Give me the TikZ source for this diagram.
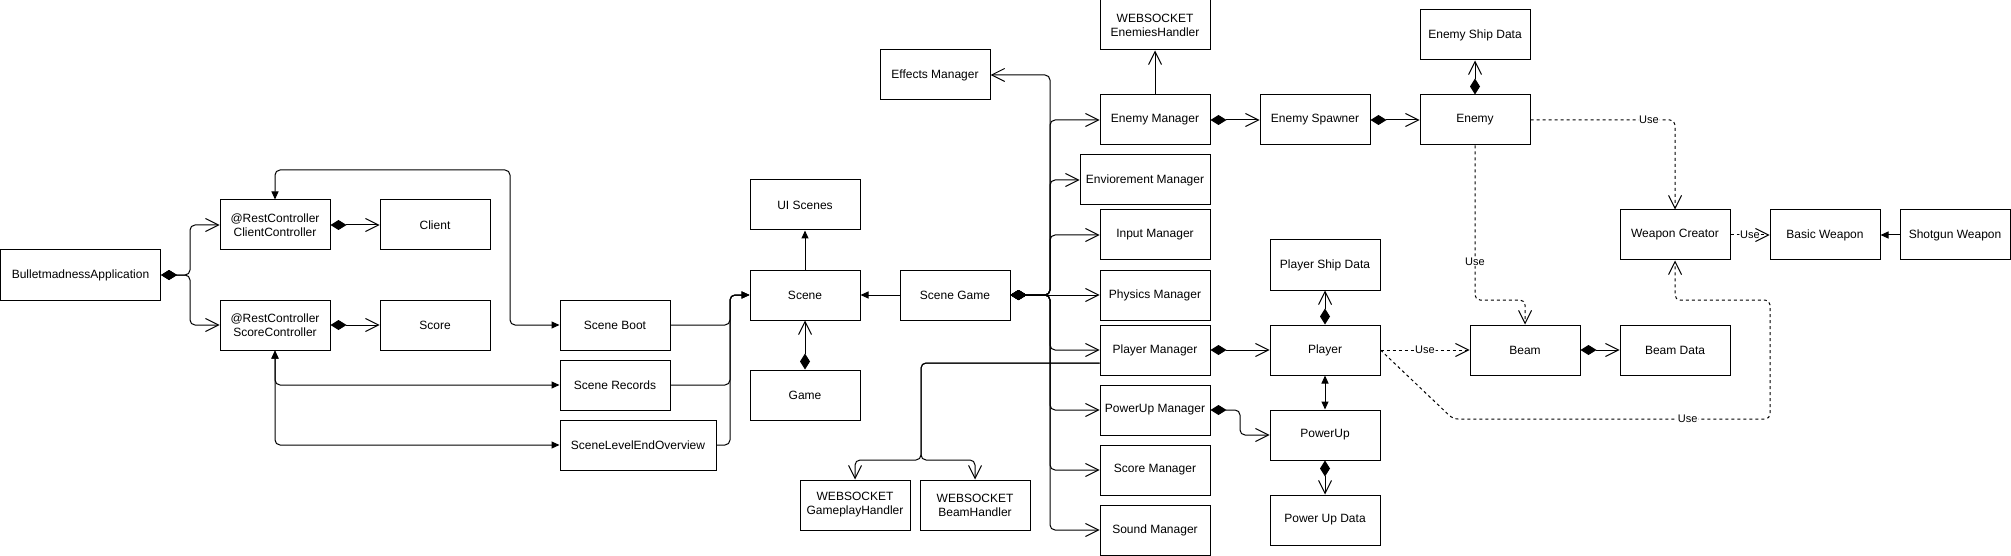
\documentclass[tikz,border=0pt]{standalone}
\usepackage{fontspec}
\setmainfont{Liberation Sans}
\usetikzlibrary{arrows.meta,calc}
\begin{document}
\begin{tikzpicture}[x=1pt,y=-1pt,
  box/.style={draw, line width=1pt, minimum width=110pt, minimum height=50pt, inner sep=0pt, align=center, font=\fontsize{12}{14}\selectfont},
  con/.style={line width=1pt, rounded corners=5pt},
  assoc/.style={con, -{Straight Barb[length=13pt,width=13pt]}},
  comp/.style={con, {Diamond[length=16pt,width=10pt]}-{Straight Barb[length=13pt,width=13pt]}},
  dep/.style={con, dash pattern=on 3pt off 3pt, -{Straight Barb[length=13pt,width=13pt]}},
  inh/.style={con, -{Triangle[length=8pt,width=7pt]}},
  both/.style={con, {Triangle[length=8pt,width=7pt]}-{Triangle[length=8pt,width=7pt]}},
  lbl/.style={fill=white, inner sep=1pt, font=\fontsize{11}{13}\selectfont},
]
\useasboundingbox (0,0) rectangle (2011,556);

% nodes
\node[box, minimum width=160pt] (app) at (80.5,275) {BulletmadnessApplication};
\node[box] (cc) at (275,225) {@RestController\\ClientController};
\node[box] (client) at (435,225) {Client};
\node[box] (sc) at (275,325) {@RestController\\ScoreController};
\node[box] (score) at (435,325) {Score};
\node[box] (boot) at (615,325) {Scene Boot};
\node[box] (records) at (615,385) {Scene Records};
\node[box, minimum width=156pt] (level) at (638,445) {SceneLevelEndOverview};
\node[box] (uis) at (805,205) {UI Scenes};
\node[box] (scene) at (805,295) {Scene};
\node[box] (game) at (805,395) {Game};
\node[box] (sgame) at (955,295) {Scene Game};
\node[box] (effects) at (935,75) {Effects Manager};
\node[box] (wsenemy) at (1155,25) {WEBSOCKET\\EnemiesHandler};
\node[box] (enemymgr) at (1155,120) {Enemy Manager};
\node[box, minimum width=130pt] (env) at (1145,180) {Enviorement Manager};
\node[box] (input) at (1155,235) {Input Manager};
\node[box] (physics) at (1155,295) {Physics Manager};
\node[box] (playermgr) at (1155,350) {Player Manager};
\node[box] (powermgr) at (1155,410) {PowerUp Manager};
\node[box] (scoremgr) at (1155,470) {Score Manager};
\node[box] (soundmgr) at (1155,530) {Sound Manager};
\node[box] (wsgame) at (855,505) {WEBSOCKET\\GameplayHandler};
\node[box] (wsbeam) at (975,505) {WEBSOCKET\\BeamHandler};
\node[box] (spawner) at (1315,120) {Enemy Spawner};
\node[box] (enemy) at (1475,120) {Enemy};
\node[box] (eshipdata) at (1475,35) {Enemy Ship Data};
\node[box] (wcreator) at (1675,235) {Weapon Creator};
\node[box] (basic) at (1825,235) {Basic Weapon};
\node[box] (shotgun) at (1955,235) {Shotgun Weapon};
\node[box] (pshipdata) at (1325,265) {Player Ship Data};
\node[box] (player) at (1325,350) {Player};
\node[box] (powerup) at (1325,435) {PowerUp};
\node[box] (pudata) at (1325,520) {Power Up Data};
\node[box] (beam) at (1525,350) {Beam};
\node[box] (beamdata) at (1675,350) {Beam Data};

% waypoints
\coordinate (k1) at (510,170);

% connectors - left part
\draw[comp] (app.east) -- (190,275) |- (cc.west);
\draw[comp] (app.east) -- (190,275) |- (sc.west);
\draw[comp] (cc.east) -- (client.west);
\draw[comp] (sc.east) -- (score.west);
\draw[both] (cc.north) |- (k1) |- (boot.west);
\draw[both] (sc.south) |- (records.west);
\draw[both] (sc.south) |- (level.west);
\draw[inh] (boot.east) -- (730,325) |- (scene.west);
\draw[inh] (records.east) -- (730,385) |- (scene.west);
\draw[inh] (level.east) -- (730,445) |- (scene.west);
\draw[inh] (scene.north) -- (uis.south);
\draw[inh] (sgame.west) -- (scene.east);
\draw[comp] (game.north) -- (scene.south);

% scene game fan
\draw[comp] (sgame.east) -- (1050,295) |- (effects.east);
\draw[comp] (sgame.east) -- (1050,295) |- (enemymgr.west);
\draw[comp] (sgame.east) -- (1050,295) |- (env.west);
\draw[comp] (sgame.east) -- (1050,295) |- (input.west);
\draw[comp] (sgame.east) -- (physics.west);
\draw[comp] (sgame.east) -- (1050,295) |- (playermgr.west);
\draw[comp] (sgame.east) -- (1050,295) |- (powermgr.west);
\draw[comp] (sgame.east) -- (1050,295) |- (scoremgr.west);
\draw[comp] (sgame.east) -- (1050,295) |- (soundmgr.west);

% websocket handlers
\draw[assoc] ($(playermgr.west)+(0,13)$) -- (921,363) -- (921,460) -| (wsgame.north);
\draw[assoc] ($(playermgr.west)+(0,13)$) -- (921,363) -- (921,460) -| (wsbeam.north);
\draw[assoc] (enemymgr.north) -- (wsenemy.south);

% enemy chain
\draw[comp] (enemymgr.east) -- (spawner.west);
\draw[comp] (spawner.east) -- (enemy.west);
\draw[comp] (enemy.north) -- (eshipdata.south);
\draw[dep] (enemy.east) -| node[lbl,pos=0.41]{Use} (wcreator.north);
\draw[dep] (enemy.south) -- node[lbl,pos=0.75]{Use} (1475,300) -| (beam.north);

% weapons
\draw[dep] (wcreator.east) -- node[lbl]{Use} (basic.west);
\draw[inh] (shotgun.west) -- (basic.east);

% player chain
\draw[comp] (playermgr.east) -- (player.west);
\draw[comp] (powermgr.east) -- (1240,410) |- (powerup.west);
\draw[comp] (player.north) -- (pshipdata.south);
\draw[both] (player.south) -- (powerup.north);
\draw[comp] (powerup.south) -- (pudata.north);
\draw[dep] (player.east) -- node[lbl]{Use} (beam.west);
\draw[comp] (beam.east) -- (beamdata.west);
\draw[dep] (player.east) -- (1453,419) -- node[lbl,pos=0.74]{Use} (1770,419) -- (1770,300) -| (wcreator.south);
\end{tikzpicture}
\end{document}
